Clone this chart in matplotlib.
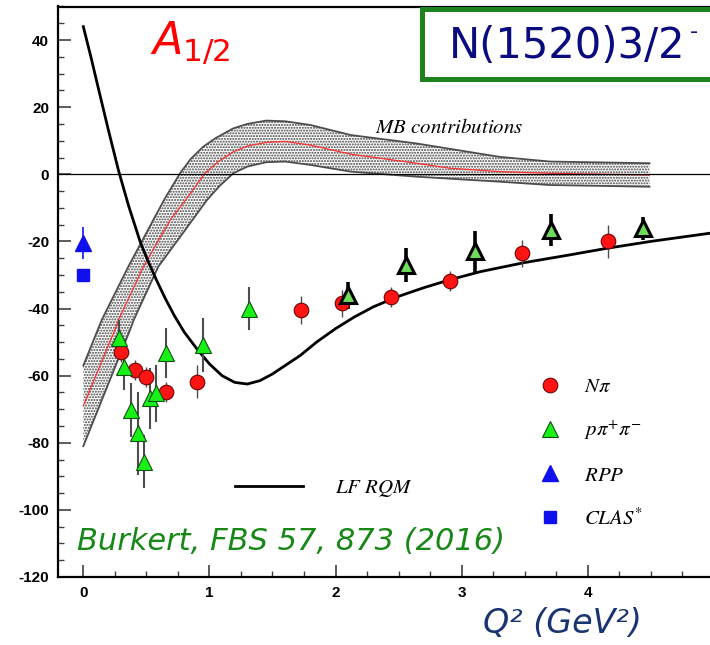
import matplotlib.pyplot as plt
from matplotlib.patches import Rectangle
from matplotlib.ticker import MultipleLocator

plt.rcParams["axes.unicode_minus"] = False
plt.rcParams["mathtext.fontset"] = "stix"

# N pi electroproduction
npi_q2 = [0.30, 0.41, 0.50, 0.655, 0.90, 1.73, 2.05, 2.44, 2.91, 3.48, 4.16]
npi_a12 = [-53.0, -58.3, -60.5, -65.0, -61.8, -40.4, -38.4, -36.5, -31.8, -23.6, -20.0]
npi_err = [3.0, 3.0, 3.0, 3.0, 5.0, 4.2, 4.0, 3.0, 3.0, 4.0, 5.0]

# p pi+ pi- , low Q2 analysis
ppp_q2 = [0.28, 0.32, 0.378, 0.43, 0.48, 0.53, 0.577, 0.656, 0.95, 1.31]
ppp_a12 = [-48.9, -57.3, -70.2, -77.2, -85.6, -66.8, -65.3, -53.3, -50.9, -40.0]
ppp_err = [5.5, 7.0, 8.0, 12.4, 8.0, 9.0, 8.5, 7.5, 8.0, 6.5]

# p pi+ pi- , high Q2 analysis
ppp_hi_q2 = [2.10, 2.56, 3.11, 3.71, 4.44]
ppp_hi_a12 = [-36.0, -27.0, -23.0, -16.6, -16.1]
ppp_hi_err = [4.0, 5.0, 6.0, 4.8, 3.5]

# photon point
rpp_q2, rpp_a12, rpp_err = [0.0], [-20.4], [4.8]
clas_q2, clas_a12 = [0.0], [-30.0]

# light-front relativistic quark model
lf_q2 = [0.0, 0.06, 0.12, 0.20, 0.28, 0.36, 0.45, 0.52, 0.58, 0.65, 0.72, 0.80,
         0.90, 1.00, 1.10, 1.20, 1.30, 1.40, 1.50, 1.60, 1.72, 1.85, 2.00, 2.15,
         2.30, 2.49, 2.70, 2.90, 3.15, 3.50, 3.86, 4.16, 4.50, 5.00]
lf_a12 = [44.0, 35.0, 25.5, 13.0, 1.0, -9.5, -20.0, -26.5, -31.5, -37.0, -42.0, -47.0,
          -52.0, -56.5, -60.0, -62.0, -62.5, -61.5, -59.5, -57.0, -54.0, -50.0, -46.0, -42.5,
          -39.5, -36.5, -33.8, -31.5, -29.0, -26.3, -24.0, -22.0, -20.0, -17.4]

# meson-baryon contributions: central value and band edges
mb_q2 = [0.0, 0.25, 0.28, 0.476, 0.69, 0.81, 0.965, 1.07, 1.19, 1.30, 1.45, 1.60,
         1.80, 2.12, 2.64, 2.91, 3.30, 3.70, 4.49]
mb_a12 = [-69.0, -46.4, -43.4, -27.5, -13.6, -7.7, 0.3, 3.8, 6.7, 8.4, 9.5, 9.8,
          8.7, 6.0, 3.3, 1.8, 0.8, 0.3, -0.2]
mb_hi_q2 = [0.0, 0.146, 0.357, 0.555, 0.65, 0.767, 0.85, 0.95, 1.05, 1.19, 1.30,
            1.45, 1.60, 1.80, 2.12, 2.64, 3.30, 3.70, 4.49]
mb_hi_a12 = [-57.0, -43.4, -27.5, -13.6, -7.0, 0.3, 4.5, 8.2, 10.8, 13.7, 15.0,
             16.0, 15.8, 14.7, 11.7, 9.2, 5.2, 3.8, 3.3]
mb_lo_q2 = [0.0, 0.37, 0.40, 0.595, 0.80, 0.98, 1.08, 1.19, 1.30, 1.45, 1.60,
            1.80, 2.12, 2.64, 3.30, 3.70, 4.49]
mb_lo_a12 = [-81.0, -46.4, -43.4, -27.5, -17.0, -7.7, -3.5, 0.3, 2.3, 3.6, 3.8,
             2.8, 0.8, -0.7, -2.2, -3.2, -3.7]

W, H = 710, 645


def fig_xy(x, y):
    """Pixel position (from top-left) to figure fraction."""
    return x / W, 1 - y / H


def main() -> None:
    fig = plt.figure(figsize=(W / 100, H / 100), dpi=100)
    ax = fig.add_axes([58.1 / W, 1 - 577 / H, 655.7 / W, 570.5 / H])
    ax.set_xlim(-0.2, 5.0)
    ax.set_ylim(-120, 50)

    # MB band
    band_x = mb_hi_q2 + mb_lo_q2[::-1]
    band_y = mb_hi_a12 + mb_lo_a12[::-1]
    ax.fill(band_x, band_y, facecolor="white", edgecolor="0.25", hatch="......",
            linewidth=0, zorder=1)
    ax.plot(mb_hi_q2, mb_hi_a12, color="0.3", lw=1.3, zorder=2)
    ax.plot(mb_lo_q2, mb_lo_a12, color="0.3", lw=1.3, zorder=2)
    ax.plot(mb_q2, mb_a12, color="#ff3030", lw=0.9, zorder=2)
    ax.axhline(0, color="black", lw=0.9, zorder=2)

    lf, = ax.plot(lf_q2, lf_a12, color="black", lw=2.0, zorder=3, label=r"$LF\ RQM$")

    # error bars
    ax.errorbar(npi_q2, npi_a12, yerr=npi_err, fmt="none", ecolor="0.3",
                elinewidth=1.0, zorder=4)
    ax.errorbar(ppp_q2, ppp_a12, yerr=ppp_err, fmt="none", ecolor="0.3",
                elinewidth=1.5, zorder=4)
    ax.errorbar(ppp_hi_q2, ppp_hi_a12, yerr=ppp_hi_err, fmt="none", ecolor="black",
                elinewidth=2.6, zorder=4)
    ax.errorbar(rpp_q2, rpp_a12, yerr=rpp_err, fmt="none", ecolor="#1010ee",
                elinewidth=1.2, zorder=4)

    npi, = ax.plot(npi_q2, npi_a12, ls="none", marker="o", ms=10.5, mfc="#ff1414",
                   mec="#700000", mew=0.8, zorder=5, label=r"$N\pi$")
    ppp, = ax.plot(ppp_q2, ppp_a12, ls="none", marker="^", ms=11, mfc="#18f018",
                   mec="#105010", mew=0.8, zorder=5, label=r"$p\pi^{+}\pi^{-}$")
    ax.plot(ppp_hi_q2, ppp_hi_a12, ls="none", marker="^", ms=11, mfc="#70dd5a",
            mec="black", mew=2.2, zorder=5)
    rpp, = ax.plot(rpp_q2, rpp_a12, ls="none", marker="^", ms=12, mfc="#1010ee",
                   mec="#1010ee", zorder=5, label=r"$RPP$")
    clas, = ax.plot(clas_q2, clas_a12, ls="none", marker="s", ms=9, mfc="#1010ee",
                    mec="#1010ee", zorder=5, label=r"$CLAS^{*}$")

    # axes frame and ticks
    for side in ("left", "bottom", "top"):
        ax.spines[side].set_linewidth(1.6)
    ax.spines["right"].set_visible(False)
    ax.xaxis.set_major_locator(MultipleLocator(1))
    ax.xaxis.set_minor_locator(MultipleLocator(0.25))
    ax.yaxis.set_major_locator(MultipleLocator(20))
    ax.yaxis.set_minor_locator(MultipleLocator(5))
    ax.tick_params(which="both", direction="in", top=False, right=False, color="0.25")
    ax.tick_params(which="major", length=9, width=1.2, pad=6.5, labelsize=11)
    ax.tick_params(which="minor", length=4.5, width=1.0)
    for lab in ax.get_xticklabels() + ax.get_yticklabels():
        lab.set_fontweight("bold")
        lab.set_family("Liberation Sans")

    # legends
    leg = ax.legend(handles=[npi, ppp, rpp, clas], loc="upper left",
                    bbox_to_anchor=fig_xy(540, 376), bbox_transform=fig.transFigure,
                    frameon=False, fontsize=15, handlelength=1.0, handletextpad=1.1,
                    labelspacing=1.08, borderpad=0, borderaxespad=0, numpoints=1)
    ax.add_artist(leg)
    ax.legend(handles=[lf], loc="center left", bbox_to_anchor=fig_xy(235, 488),
              bbox_transform=fig.transFigure, frameon=False, fontsize=15,
              handlelength=3.27, handletextpad=1.55, borderpad=0, borderaxespad=0)

    ax.text(2.31, 12.3, r"$MB\ contributions$", fontsize=15, va="baseline", zorder=6)

    fig.text(*fig_xy(150, 55), r"$A_{1/2}$", math_fontfamily="dejavusans",
             fontsize=32, color="#ff0000", va="baseline")
    fig.text(*fig_xy(77, 550), "Burkert, FBS 57, 873 (2016)", family="DejaVu Sans",
             style="italic", fontsize=22, color="#178717", va="baseline")
    fig.text(*fig_xy(483, 633), "Q² (GeV²)", family="DejaVu Sans", style="italic",
             fontsize=24, color="#1a3472", va="baseline")

    # state label box
    fig.add_artist(Rectangle(fig_xy(422, 79.2), 310 / W, 70.7 / H,
                             transform=fig.transFigure, facecolor="white",
                             edgecolor="#1e821e", lw=3.6, zorder=10))
    fig.text(*fig_xy(449, 58), "N(1520)3/2", family="DejaVu Sans", fontsize=30,
             color="#0b0b80", va="baseline", zorder=11)
    fig.text(*fig_xy(690, 38), "-", family="DejaVu Sans", fontsize=16,
             color="#0b0b80", va="baseline", zorder=11)

    fig.savefig("out.png", dpi=100)


if __name__ == "__main__":
    main()
